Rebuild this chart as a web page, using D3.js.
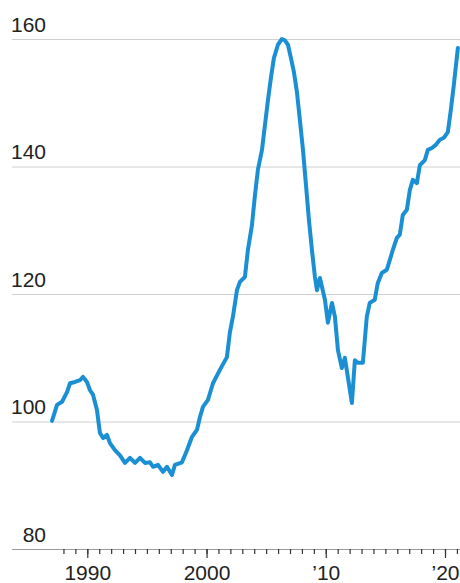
<!DOCTYPE html>
<html>
<head>
<meta charset="utf-8">
<script src="https://cdn.jsdelivr.net/npm/d3@7/dist/d3.min.js"></script>
<style>
  html, body { margin: 0; padding: 0; background: #fff; }
  svg { display: block; }
  text { font-family: "Liberation Sans", "DejaVu Sans", sans-serif; fill: #222; }
</style>
</head>
<body>
<svg id="chart" width="460" height="583"></svg>
<script>
// Home price index, decimal year and index level
const dates = [
  1987.04, 1987.46, 1987.88, 1988.30, 1988.55, 1988.97, 1989.39, 1989.64, 1989.97,
  1990.23, 1990.48, 1990.81, 1991.06, 1991.32, 1991.65, 1991.90, 1992.32, 1992.74,
  1993.16, 1993.58, 1994.00, 1994.42, 1994.84, 1995.26, 1995.51, 1995.93, 1996.35,
  1996.68, 1997.10, 1997.35, 1997.94, 1998.36, 1998.78, 1999.20, 1999.45, 1999.70,
  2000.12, 2000.54, 2001.12, 2001.71, 2001.96, 2002.21, 2002.55, 2002.80, 2003.22,
  2003.47, 2003.81, 2004.06, 2004.31, 2004.65, 2004.90, 2005.15, 2005.40, 2005.65,
  2005.99, 2006.32, 2006.57, 2006.83, 2007.08, 2007.33, 2007.58, 2007.83, 2008.09,
  2008.34, 2008.59, 2008.84, 2009.09, 2009.26, 2009.51, 2009.93, 2010.18, 2010.52,
  2010.77, 2011.02, 2011.35, 2011.60, 2011.85, 2012.19, 2012.44, 2012.69, 2013.11,
  2013.44, 2013.69, 2014.11, 2014.36, 2014.70, 2015.12, 2015.37, 2015.62, 2015.96,
  2016.21, 2016.46, 2016.80, 2017.05, 2017.30, 2017.64, 2017.89, 2018.31, 2018.56,
  2018.90, 2019.23, 2019.57, 2019.90, 2020.24, 2020.49, 2020.74, 2021.08
];
const index = [
  100.1, 102.6, 103.1, 104.6, 106.0, 106.2, 106.5, 107.0, 106.2,
  104.9, 104.2, 101.8, 98.2, 97.4, 97.9, 96.6, 95.5, 94.7,
  93.5, 94.3, 93.5, 94.3, 93.5, 93.6, 92.9, 93.2, 92.1,
  92.9, 91.6, 93.2, 93.6, 95.5, 97.6, 98.7, 100.7, 102.3,
  103.4, 106.0, 108.1, 110.1, 114.0, 116.4, 120.6, 121.9, 122.7,
  126.9, 130.8, 135.5, 139.5, 142.6, 146.5, 150.4, 153.9, 157.0,
  159.1, 160.0, 159.8, 159.1, 157.0, 154.8, 151.7, 147.3, 142.6,
  137.1, 131.6, 126.9, 122.7, 120.6, 122.5, 119.1, 115.5, 118.6,
  116.4, 111.2, 108.4, 110.0, 107.0, 102.9, 109.6, 109.2, 109.2,
  116.4, 118.6, 119.1, 121.7, 123.3, 123.8, 125.3, 126.9, 128.8,
  129.3, 132.4, 133.2, 136.3, 137.9, 137.4, 140.2, 141.0, 142.6,
  142.9, 143.4, 144.2, 144.5, 145.4, 148.9, 152.8, 158.6
];

// Axis ticks and labels
const yTicks = [80, 100, 120, 140, 160];
const yTickLabels = ["80", "100", "120", "140", "160"];
const xMajorTicks = [1990, 2000, 2010, 2020];
const xMajorLabels = ["1990", "2000", "\u201910", "\u201920"];
const xMinorTicks = [
  1988, 1989, 1990, 1991, 1992, 1993, 1994, 1995, 1996, 1997, 1998, 1999,
  2000, 2001, 2002, 2003, 2004, 2005, 2006, 2007, 2008, 2009, 2010, 2011,
  2012, 2013, 2014, 2015, 2016, 2017, 2018, 2019, 2020, 2021
];

const svg = d3.select("#chart");
const gridLeft = 12, gridRight = 460;

const x = d3.scaleLinear().domain([1990, 2020]).range([87.3, 445]);
const y = d3.scaleLinear().domain([80, 160]).range([549, 39]);

// Horizontal gridlines with labels sitting above their left end
const yAxis = svg.append("g")
  .attr("transform", `translate(${gridLeft},0)`)
  .call(d3.axisLeft(y)
    .tickValues(yTicks)
    .tickSize(-(gridRight - gridLeft))
    .tickFormat((d, i) => yTickLabels[i]));
yAxis.select(".domain").remove();
yAxis.selectAll(".tick line")
  .attr("stroke", d => d === 80 ? "#9a9a9a" : "#cfcfcf")
  .attr("stroke-width", 1);
yAxis.selectAll(".tick text")
  .attr("x", 34)
  .attr("dy", -8)
  .attr("text-anchor", "end")
  .style("font-size", "21px");

// Yearly minor ticks below the baseline
const xMinor = svg.append("g")
  .attr("transform", `translate(0,${y(80)})`)
  .call(d3.axisBottom(x).tickValues(xMinorTicks).tickSize(5).tickFormat(""));
xMinor.select(".domain").remove();
xMinor.selectAll(".tick line").attr("stroke", "#333").attr("stroke-width", 1.2);

// Decade ticks with labels
const xMajor = svg.append("g")
  .attr("transform", `translate(0,${y(80)})`)
  .call(d3.axisBottom(x)
    .tickValues(xMajorTicks)
    .tickSize(9)
    .tickPadding(2)
    .tickFormat((d, i) => xMajorLabels[i]));
xMajor.select(".domain").remove();
xMajor.selectAll(".tick line").attr("stroke", "#333").attr("stroke-width", 1.2);
xMajor.selectAll(".tick text")
  .attr("y", 31)
  .attr("dy", 0)
  .style("font-size", "21px");

// Index line
const series = dates.map((d, i) => ({ t: d, v: index[i] }));
const line = d3.line().x(d => x(d.t)).y(d => y(d.v));
svg.append("path")
  .datum(series)
  .attr("fill", "none")
  .attr("stroke", "#1a8fd3")
  .attr("stroke-width", 4)
  .attr("stroke-linejoin", "round")
  .attr("stroke-linecap", "round")
  .attr("d", line);
</script>
</body>
</html>
